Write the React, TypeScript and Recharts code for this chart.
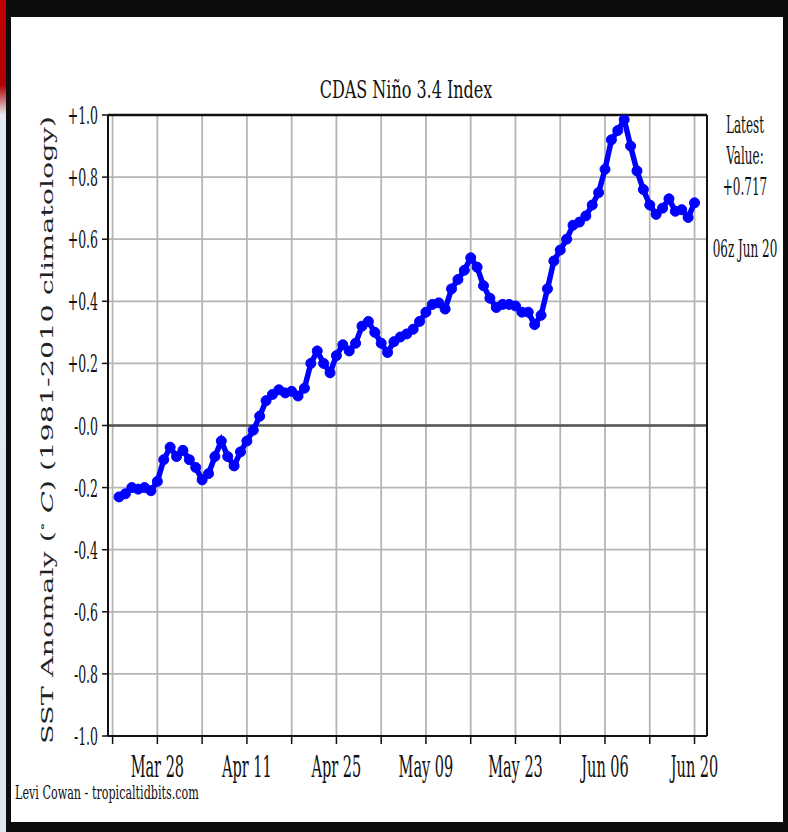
import React from 'react';
import {
  LineChart,
  Line,
  XAxis,
  YAxis,
  CartesianGrid,
  ReferenceLine,
} from 'recharts';

// days after Mar 21 (00z), one reading per day
const DAYS = [
  1, 2, 3, 4, 5, 6, 7, 8, 9, 10, 11, 12, 13, 14, 15, 16, 17, 18, 19, 20,
  21, 22, 23, 24, 25, 26, 27, 28, 29, 30, 31, 32, 33, 34, 35, 36, 37, 38, 39, 40,
  41, 42, 43, 44, 45, 46, 47, 48, 49, 50, 51, 52, 53, 54, 55, 56, 57, 58, 59, 60,
  61, 62, 63, 64, 65, 66, 67, 68, 69, 70, 71, 72, 73, 74, 75, 76, 77, 78, 79, 80,
  81, 82, 83, 84, 85, 86, 87, 88, 89, 90, 91,
];

const ANOMALY = [
  -0.23, -0.22, -0.2, -0.205, -0.2, -0.21, -0.18, -0.11, -0.07, -0.1,
  -0.08, -0.11, -0.135, -0.175, -0.155, -0.1, -0.05, -0.1, -0.13, -0.085,
  -0.05, -0.015, 0.03, 0.08, 0.1, 0.115, 0.105, 0.11, 0.095, 0.12,
  0.2, 0.24, 0.2, 0.17, 0.225, 0.26, 0.24, 0.265, 0.32, 0.335,
  0.3, 0.265, 0.235, 0.27, 0.285, 0.295, 0.31, 0.335, 0.365, 0.39,
  0.395, 0.375, 0.44, 0.47, 0.5, 0.54, 0.51, 0.45, 0.41, 0.38,
  0.39, 0.39, 0.385, 0.365, 0.365, 0.325, 0.355, 0.44, 0.53, 0.565,
  0.6, 0.645, 0.655, 0.675, 0.71, 0.75, 0.825, 0.92, 0.95, 0.985,
  0.9, 0.82, 0.76, 0.71, 0.68, 0.7, 0.73, 0.69, 0.695, 0.67, 0.717,
];

const X_TICKS = [0, 7, 14, 21, 28, 35, 42, 49, 56, 63, 70, 77, 84, 91];
const X_TICK_LABELS = [
  '', 'Mar 28', '', 'Apr 11', '', 'Apr 25', '', 'May 09', '', 'May 23', '', 'Jun 06', '', 'Jun 20',
];

const Y_TICKS = [-1, -0.8, -0.6, -0.4, -0.2, 0, 0.2, 0.4, 0.6, 0.8, 1];
const Y_TICK_LABELS = [
  '-1.0', '-0.8', '-0.6', '-0.4', '-0.2', '-0.0', '+0.2', '+0.4', '+0.6', '+0.8', '+1.0',
];

const X_DOMAIN = [-0.72, 92.95];

const data = DAYS.map((d, i) => ({ day: d, value: ANOMALY[i] }));

const SERIF = '"DejaVu Serif", serif';

const XTick = (props: any) => {
  const { x, y, payload } = props;
  const i = X_TICKS.indexOf(payload.value);
  const label = i >= 0 ? X_TICK_LABELS[i] : '';
  if (!label) return null;
  return (
    <g transform={`translate(${x},${y}) scale(0.5,1)`}>
      <text textAnchor="middle" dy="0.73em" fontFamily={SERIF} fontSize={29} fill="#111">
        {label}
      </text>
    </g>
  );
};

const YTick = (props: any) => {
  const { x, y, payload } = props;
  const i = Y_TICKS.findIndex((t) => Math.abs(t - payload.value) < 1e-6);
  return (
    <g transform={`translate(${x},${y}) scale(0.5,1)`}>
      <text textAnchor="end" dy="0.36em" fontFamily={SERIF} fontSize={25} fill="#111">
        {i >= 0 ? Y_TICK_LABELS[i] : ''}
      </text>
    </g>
  );
};

const Txt = ({ x, y, size, sx, anchor = 'middle', children }: any) => (
  <g transform={`translate(${x},${y}) scale(${sx},1)`}>
    <text textAnchor={anchor} fontFamily={SERIF} fontSize={size} fill="#111">
      {children}
    </text>
  </g>
);

export default function App() {
  return (
    <div style={{ position: 'absolute', left: 0, top: 0, width: 788, height: 832, background: '#0d0d0d', overflow: 'hidden' }}>
      <div
        style={{
          position: 'absolute', left: 0, top: 0, width: 6, height: 832,
          background: 'linear-gradient(#c20000 0px, #b00000 85px, #e6ebf2 115px, #dfe6ee 832px)',
        }}
      />
      <div style={{ position: 'absolute', left: 11, top: 17, width: 772, height: 805, background: '#fff' }} />
      <div style={{ position: 'absolute', left: 0, top: 0 }}>
        <LineChart width={788} height={832} data={data} margin={{ top: 115, right: 81, bottom: 66, left: 48 }}>
          <CartesianGrid stroke="#b5b5b5" strokeWidth={1.8} horizontalValues={Y_TICKS} verticalValues={X_TICKS} />
          <XAxis
            dataKey="day"
            type="number"
            domain={X_DOMAIN}
            ticks={X_TICKS}
            interval={0}
            height={30}
            tick={<XTick />}
            tickSize={8}
            tickMargin={12}
            axisLine={{ stroke: '#111', strokeWidth: 2 }}
            tickLine={{ stroke: '#111', strokeWidth: 1.5 }}
            allowDataOverflow
          />
          <YAxis
            type="number"
            domain={[-1, 1]}
            ticks={Y_TICKS}
            interval={0}
            width={60}
            tick={<YTick />}
            tickSize={6}
            tickMargin={4}
            axisLine={{ stroke: '#111', strokeWidth: 2 }}
            tickLine={{ stroke: '#111', strokeWidth: 1.5 }}
            allowDataOverflow
          />
          <ReferenceLine y={0} stroke="#555" strokeWidth={2.5} />
          <ReferenceLine y={1} stroke="#111" strokeWidth={2.5} />
          <ReferenceLine x={X_DOMAIN[1]} stroke="#111" strokeWidth={2} />
          <Line
            type="linear"
            dataKey="value"
            stroke="#0000ff"
            strokeWidth={5.5}
            dot={{ r: 5, fill: '#0000ff', stroke: '#0000ff', strokeWidth: 1 }}
            isAnimationActive={false}
          />
        </LineChart>
      </div>
      <svg width={788} height={832} style={{ position: 'absolute', left: 0, top: 0, pointerEvents: 'none' }}>
        <Txt x={406} y={98} size={25} sx={0.64}>CDAS Niño 3.4 Index</Txt>
        <Txt x={745} y={133} size={24} sx={0.5}>Latest</Txt>
        <Txt x={745} y={164} size={24} sx={0.5}>Value:</Txt>
        <Txt x={745} y={195} size={24} sx={0.5}>+0.717</Txt>
        <Txt x={745} y={257} size={24} sx={0.5}>06z Jun 20</Txt>
        <Txt x={15} y={799} size={18} sx={0.62} anchor="start">Levi Cowan - tropicaltidbits.com</Txt>
        <g transform="translate(53,430) scale(0.6,1) rotate(-90)">
          <text
            textAnchor="middle"
            fontFamily={SERIF}
            fontSize={27}
            fill="#222"
            textLength={628}
            lengthAdjust="spacingAndGlyphs"
          >
            SST Anomaly (
            <tspan fontSize={17} dy={-11}>∘</tspan>
            <tspan dy={11} fontStyle="italic"> C</tspan>) (1981-2010 climatology)
          </text>
        </g>
      </svg>
    </div>
  );
}
